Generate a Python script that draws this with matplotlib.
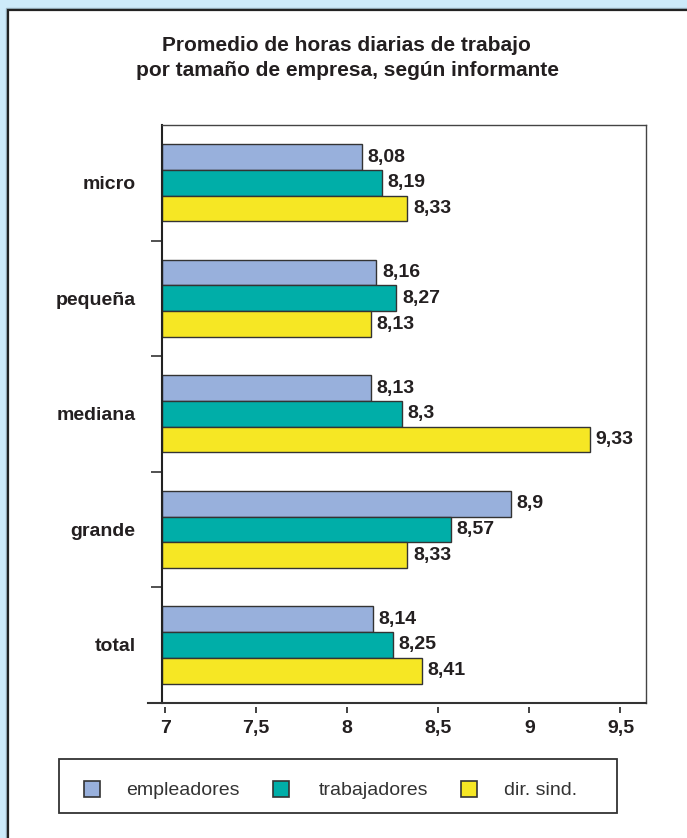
import matplotlib
matplotlib.use("Agg")
import matplotlib.pyplot as plt
from matplotlib.patches import Rectangle
from matplotlib.lines import Line2D
import numpy as np

# ---- data ----
categories = ["micro", "pequeña", "mediana", "grande", "total"]
series_names = ["empleadores", "trabajadores", "dir. sind."]
empleadores = [8.08, 8.16, 8.13, 8.9, 8.14]
trabajadores = [8.19, 8.27, 8.3, 8.57, 8.25]
dir_sind = [8.33, 8.13, 9.33, 8.33, 8.41]
xticks = [7, 7.5, 8, 8.5, 9, 9.5]
xtick_labels = ["7", "7,5", "8", "8,5", "9", "9,5"]
title_lines = ["Promedio de horas diarias de trabajo",
               "por tamaño de empresa, según informante"]

colors = ["#98b0dc", "#00aea8", "#f6e724"]
TXT = "#231f20"

W, H = 687, 838
plt.rcParams['font.family'] = ['Liberation Sans', 'DejaVu Sans']
fig = plt.figure(figsize=(W / 100, H / 100), dpi=100, facecolor="#cdeafa")

def fx(px):
    return px / W

def fy(py):
    return 1 - py / H

# white panel
fig.add_artist(Rectangle((fx(6), fy(H + 20)), 1.2, fy(8) - fy(H + 20),
                         transform=fig.transFigure, facecolor="none",
                         edgecolor="#9ab3c2", lw=1.0, zorder=0))
fig.add_artist(Rectangle((fx(7.5), fy(H + 20)), 1.2, fy(9.5) - fy(H + 20),
                         transform=fig.transFigure, facecolor="white",
                         edgecolor="#222222", lw=1.6, zorder=0))

# title
fig.text(fx(346), fy(51), title_lines[0], ha="center", va="baseline",
         fontsize=15, fontweight="bold", color=TXT)
fig.text(fx(347), fy(76), title_lines[1], ha="center", va="baseline",
         fontsize=15, fontweight="bold", color=TXT)

# axes
ax_left, ax_right, ax_top, ax_bot = 162, 646, 125, 702.7
ax = fig.add_axes([fx(ax_left), fy(ax_bot), fx(ax_right) - fx(ax_left),
                   fy(ax_top) - fy(ax_bot)])
ax.set_facecolor("white")
ax.spines["bottom"].set_position(("outward", 3))
ax.spines["bottom"].set_visible(False)

xmin, xmax = 6.983, 9.64
ax.set_xlim(xmin, xmax)
ax.set_ylim(len(categories) - 0.5, -0.5)

y = np.arange(len(categories))
h = 0.223
all_series = [empleadores, trabajadores, dir_sind]
for i, (vals, col, name) in enumerate(zip(all_series, colors, series_names)):
    ypos = y + (i - 1) * h
    widths = np.array(vals) - xmin
    ax.barh(ypos, widths, left=xmin, height=h, color=col,
            edgecolor="#333333", linewidth=1.0, zorder=2)
    for yy, v in zip(ypos, vals):
        lbl = f"{v:g}".replace(".", ",")
        ax.annotate(lbl, (v, yy), xytext=(4, 0), textcoords="offset points",
                    ha="left", va="center", fontsize=14, fontweight="bold",
                    color=TXT, zorder=3)

# x axis
ax.set_xticks(xticks)
ax.set_xticklabels(xtick_labels)
ax.tick_params(axis="x", direction="out", length=4.5, width=1.3,
               color="#333333", pad=5, labelsize=14, labelcolor=TXT)
for t in ax.get_xticklabels():
    t.set_fontweight("bold")
ax.add_line(Line2D([-0.029, 1.0], [0, 0], transform=ax.transAxes,
                   color="#333333", lw=1.5, clip_on=False, zorder=5))

# y axis
ax.set_yticks(y)
ax.set_yticklabels(categories)
ax.tick_params(axis="y", which="major", length=0, pad=19, labelsize=14,
               labelcolor=TXT)
for t in ax.get_yticklabels():
    t.set_fontweight("bold")
ax.set_yticks(np.arange(len(categories) - 1) + 0.5, minor=True)
ax.tick_params(axis="y", which="minor", direction="out", length=8,
               width=1.2, color="#333333")

ax.spines["left"].set_color("#222222")
ax.spines["left"].set_linewidth(1.5)
for s in ["top", "right"]:
    ax.spines[s].set_color("#444444")
    ax.spines[s].set_linewidth(1.0)

# legend (manual)
fig.add_artist(Rectangle((fx(59), fy(813)), fx(617) - fx(59), fy(759) - fy(813),
                         transform=fig.transFigure, facecolor="white",
                         edgecolor="#333333", lw=1.3))
hx = [84.3, 273, 460.7]
tx = [126, 319, 504]
for col, name, x0, t0 in zip(colors, series_names, hx, tx):
    fig.add_artist(Rectangle((fx(x0), fy(796.7)), fx(16), fy(780.7) - fy(796.7),
                             transform=fig.transFigure, facecolor=col,
                             edgecolor="#333333", lw=1.2))
    fig.text(fx(t0), fy(794.5), name, ha="left", va="baseline",
             fontsize=14, color="#333333")

fig.savefig("out.png", dpi=100, facecolor=fig.get_facecolor())
